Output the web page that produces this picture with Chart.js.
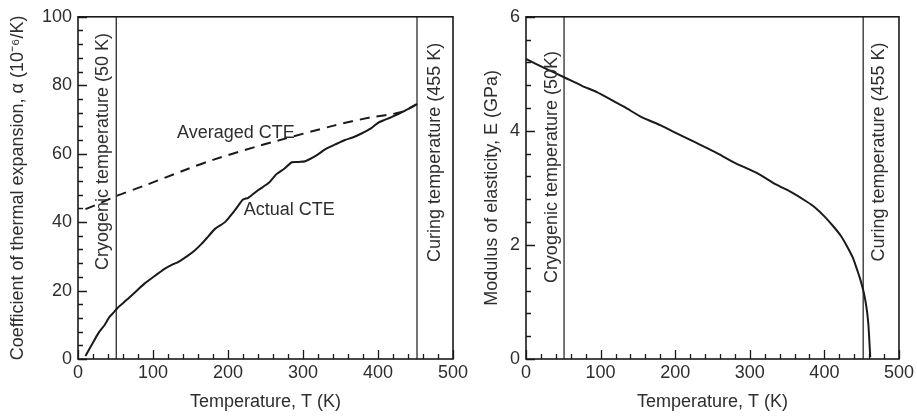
<!DOCTYPE html>
<html>
<head>
<meta charset="utf-8">
<script src="https://cdn.jsdelivr.net/npm/chart.js@4.4.1/dist/chart.umd.min.js"></script>
<style>
  body { margin: 0; background: #fff; }
  #wrap { position: relative; width: 917px; height: 416px; overflow: hidden; }
  canvas { position: absolute; top: 0; }
</style>
</head>
<body>
<div id="wrap">
  <canvas id="cteChart" width="475" height="416" style="left:0"></canvas>
  <canvas id="modChart" width="457" height="416" style="left:460px"></canvas>
</div>
<script>
// ---- data ----
const actualT = [10, 18, 27, 35, 42, 48, 53, 60, 67, 78, 89, 100, 116, 125, 134, 147, 156, 165, 174, 183, 196, 209, 220, 227, 240, 254, 265, 275, 285, 295, 303, 318, 330, 345, 356, 367, 378, 390, 400, 407, 418, 427, 440, 452];
const actualCTE = [0.9, 4, 7.5, 9.8, 12.3, 13.7, 15, 16.3, 17.7, 19.9, 22.1, 23.9, 26.4, 27.5, 28.4, 30.3, 31.8, 33.7, 35.9, 38.1, 40.0, 43.4, 46.6, 47.1, 49.3, 51.4, 54.1, 55.6, 57.5, 57.6, 57.8, 59.5, 61.3, 62.9, 64.0, 64.8, 65.9, 67.3, 69.0, 69.7, 70.7, 71.6, 73.0, 74.5];

const avgT = [10, 30, 53, 89, 147, 180, 243, 266, 341, 390, 430, 452];
const avgCTE = [43.8, 45.6, 47.8, 50.7, 55.6, 58.2, 62.4, 63.8, 68.2, 70.6, 72.1, 74.5];

const modT = [0, 25, 51, 75, 95, 115, 133, 155, 180, 200, 225, 253, 280, 311, 335, 355, 375, 387, 400, 413, 422, 431, 438, 444, 448, 452, 455, 457.5, 459, 460, 461, 461.5];
const modE = [5.26, 5.10, 4.94, 4.79, 4.68, 4.54, 4.41, 4.24, 4.10, 3.97, 3.81, 3.63, 3.44, 3.25, 3.06, 2.93, 2.77, 2.66, 2.50, 2.31, 2.16, 1.96, 1.78, 1.56, 1.40, 1.21, 1.02, 0.80, 0.60, 0.39, 0.15, 0.03];

const cryoT = 51;
const curingT = 452;

const xTicks = [0, 100, 200, 300, 400, 500];
const cteTicks = [0, 20, 40, 60, 80, 100];
const modTicks = [0, 2, 4, 6];

const INK = '#1a1a1a';
const TEXT = '#2e2e2e';

Chart.defaults.font.family = "'Liberation Sans', Arial, Helvetica, sans-serif";
Chart.defaults.font.size = 18;
Chart.defaults.color = TEXT;

function pts(xs, ys) {
  return xs.map((x, i) => ({ x: x, y: ys[i] }));
}

function vline(t, ymax) {
  return {
    data: [{ x: t, y: 0 }, { x: t, y: ymax }],
    borderColor: INK, borderWidth: 1.2, pointRadius: 0, tension: 0
  };
}

// frame, inward ticks and text annotations
const decor = {
  id: 'decor',
  afterDraw(chart, args, opts) {
    const ctx = chart.ctx;
    const a = chart.chartArea;
    const xs = chart.scales.x, ys = chart.scales.y;
    ctx.save();
    ctx.strokeStyle = INK;

    // ticks
    ctx.lineWidth = 1.3;
    ctx.beginPath();
    for (let v = xs.min; v <= xs.max + 1e-9; v += opts.xMinor) {
      const px = Math.round(xs.getPixelForValue(v)) + 0.5;
      const major = Math.abs(v / opts.xMajor - Math.round(v / opts.xMajor)) < 1e-6;
      const len = major ? 9 : 5;
      ctx.moveTo(px, a.bottom);
      ctx.lineTo(px, a.bottom - len);
    }
    for (let v = ys.min; v <= ys.max + 1e-9; v += opts.yMinor) {
      const py = Math.round(ys.getPixelForValue(v)) + 0.5;
      const major = Math.abs(v / opts.yMajor - Math.round(v / opts.yMajor)) < 1e-6;
      const len = major ? 9 : 5;
      ctx.moveTo(a.left, py);
      ctx.lineTo(a.left + len, py);
    }
    ctx.stroke();

    // frame
    ctx.lineWidth = 1.6;
    ctx.strokeRect(a.left, a.top, a.right - a.left, a.bottom - a.top);

    // labels
    ctx.fillStyle = TEXT;
    ctx.font = "18px 'Liberation Sans', Arial, sans-serif";
    opts.labels.forEach(l => {
      const px = xs.getPixelForValue(l.x);
      const py = ys.getPixelForValue(l.y);
      ctx.save();
      ctx.translate(px, py);
      if (l.rotate) {
        ctx.rotate(-Math.PI / 2);
        ctx.textAlign = 'right';
      } else {
        ctx.textAlign = 'left';
      }
      ctx.textBaseline = 'middle';
      ctx.fillText(l.text, 0, 0);
      ctx.restore();
    });
    ctx.restore();
  }
};

function makeOptions(cfg) {
  return {
    responsive: false,
    animation: false,
    layout: { padding: { left: 0, top: 16, right: cfg.padRight, bottom: 0 } },
    plugins: {
      legend: { display: false },
      tooltip: { enabled: false },
      decor: cfg.decor
    },
    scales: {
      x: {
        type: 'linear', min: 0, max: 500,
        afterBuildTicks: s => { s.ticks = xTicks.map(v => ({ value: v })); },
        ticks: { padding: 3, maxRotation: 0, autoSkip: false, color: TEXT },
        grid: { display: false, drawTicks: false },
        border: { display: false },
        title: { display: true, text: 'Temperature, T (K)', color: TEXT, padding: { top: 0, bottom: 3 } },
        afterFit: s => { s.height = 57; }
      },
      y: {
        type: 'linear', min: 0, max: cfg.yMax,
        afterBuildTicks: s => { s.ticks = cfg.yTicks.map(v => ({ value: v })); },
        ticks: { padding: 6, autoSkip: false, color: TEXT },
        grid: { display: false, drawTicks: false },
        border: { display: false },
        title: { display: true, text: cfg.yTitle, color: TEXT, padding: { top: cfg.titlePad, bottom: 0 } },
        afterFit: s => { s.width = cfg.yWidth; }
      }
    }
  };
}

new Chart(document.getElementById('cteChart'), {
  type: 'line',
  data: {
    datasets: [
      { data: pts(actualT, actualCTE), borderColor: INK, borderWidth: 2, pointRadius: 0, tension: 0.2 },
      { data: pts(avgT, avgCTE), borderColor: INK, borderWidth: 2, borderDash: [10, 7], pointRadius: 0, tension: 0.3 },
      vline(cryoT, 100),
      vline(curingT, 100)
    ]
  },
  options: makeOptions({
    padRight: 22, yMax: 100, yTicks: cteTicks, yWidth: 78, titlePad: 7,
    yTitle: 'Coefficient of thermal expansion, \u03b1 (10\u207b\u2076/K)',
    decor: {
      xMinor: 20, xMajor: 100, yMinor: 4, yMajor: 20,
      labels: [
        { text: 'Cryogenic temperature (50 K)', x: 33, y: 95.3, rotate: true },
        { text: 'Curing temperature (455 K)', x: 476, y: 92.4, rotate: true },
        { text: 'Averaged CTE', x: 132, y: 65.9 },
        { text: 'Actual CTE', x: 221, y: 43.4 }
      ]
    }
  }),
  plugins: [decor]
});

new Chart(document.getElementById('modChart'), {
  type: 'line',
  data: {
    datasets: [
      { data: pts(modT, modE), borderColor: INK, borderWidth: 2, pointRadius: 0, tension: 0.2 },
      vline(cryoT, 6),
      vline(curingT, 6)
    ]
  },
  options: makeOptions({
    padRight: 15, yMax: 6, yTicks: modTicks, yWidth: 66, titlePad: 21,
    yTitle: 'Modulus of elasticity, E (GPa)',
    decor: {
      xMinor: 20, xMajor: 100, yMinor: 0.4, yMajor: 2,
      labels: [
        { text: 'Cryogenic temperature (50K)', x: 34.6, y: 5.4, rotate: true },
        { text: 'Curing temperature (455 K)', x: 473, y: 5.55, rotate: true }
      ]
    }
  }),
  plugins: [decor]
});
</script>
</body>
</html>
